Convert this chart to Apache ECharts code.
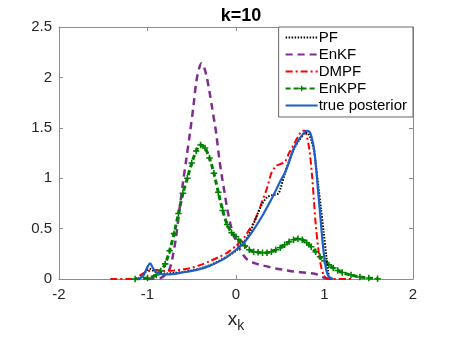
<!DOCTYPE html>
<html>
<head>
<meta charset="utf-8">
<script src="https://cdn.jsdelivr.net/npm/echarts@6/dist/echarts.min.js"></script>
<style>html,body{margin:0;padding:0;background:#fff}#c{width:457px;height:338px}</style>
</head>
<body>
<div id="c"></div>
<script>
const xTicks = [-2, -1, 0, 1, 2];
const yTicks = [0, 0.5, 1, 1.5, 2, 2.5];

const pfX = [-1.1, -1.05, -1.0, -0.97, -0.93, -0.88, -0.8, -0.7, -0.6, -0.5, -0.4, -0.3, -0.2, -0.1, 0, 0.1, 0.15, 0.2, 0.25, 0.3, 0.35, 0.4, 0.45, 0.48, 0.5, 0.55, 0.6, 0.65, 0.7, 0.75, 0.78, 0.82, 0.85, 0.88, 0.9, 0.93, 0.96, 0.99, 1.02, 1.04, 1.06, 1.1];
const pfY = [0, 0.04, 0.09, 0.1, 0.08, 0.06, 0.055, 0.06, 0.07, 0.085, 0.105, 0.135, 0.175, 0.225, 0.28, 0.38, 0.45, 0.55, 0.66, 0.75, 0.81, 0.83, 0.84, 0.85, 0.89, 1.04, 1.17, 1.28, 1.36, 1.42, 1.45, 1.44, 1.38, 1.28, 1.15, 0.92, 0.7, 0.47, 0.23, 0.08, 0.01, 0];

const enkfX = [-1.0, -0.85, -0.8, -0.75, -0.72, -0.68, -0.64, -0.6, -0.56, -0.52, -0.48, -0.45, -0.42, -0.39, -0.36, -0.33, -0.3, -0.27, -0.24, -0.22, -0.19, -0.16, -0.13, -0.1, -0.07, -0.03, 0, 0.04, 0.08, 0.13, 0.2, 0.27, 0.35, 0.45, 0.55, 0.65, 0.8, 0.9, 0.95, 1.0, 1.05];
const enkfY = [0, 0.01, 0.04, 0.1, 0.2, 0.4, 0.68, 0.95, 1.2, 1.45, 1.72, 1.95, 2.08, 2.14, 2.1, 2.0, 1.86, 1.7, 1.54, 1.42, 1.2, 1.02, 0.86, 0.7, 0.57, 0.44, 0.38, 0.3, 0.24, 0.19, 0.16, 0.14, 0.125, 0.105, 0.09, 0.075, 0.06, 0.05, 0.03, 0.01, 0];

const dmpfX = [-1.42, -1.2, -1.12, -1.08, -1.02, -0.95, -0.9, -0.8, -0.7, -0.6, -0.5, -0.4, -0.3, -0.2, -0.1, 0, 0.1, 0.15, 0.2, 0.25, 0.3, 0.35, 0.4, 0.45, 0.5, 0.55, 0.6, 0.65, 0.7, 0.75, 0.78, 0.8, 0.83, 0.86, 0.88, 0.9, 0.93, 0.96, 0.99, 1.02, 1.05, 1.3];
const dmpfY = [0, 0, 0.01, 0.04, 0.07, 0.085, 0.09, 0.08, 0.085, 0.095, 0.11, 0.14, 0.175, 0.215, 0.26, 0.33, 0.42, 0.49, 0.56, 0.66, 0.78, 0.9, 1.05, 1.12, 1.14, 1.16, 1.25, 1.33, 1.41, 1.47, 1.47, 1.42, 1.28, 1.02, 0.78, 0.55, 0.3, 0.13, 0.04, 0.01, 0, 0];

const enkpfX = [-1.14, -1.0, -0.9, -0.85, -0.8, -0.75, -0.7, -0.65, -0.6, -0.55, -0.5, -0.45, -0.4, -0.35, -0.3, -0.25, -0.2, -0.15, -0.1, -0.05, 0, 0.05, 0.1, 0.15, 0.2, 0.25, 0.3, 0.35, 0.4, 0.45, 0.5, 0.55, 0.6, 0.65, 0.7, 0.75, 0.8, 0.85, 0.9, 0.95, 1.0, 1.05, 1.1, 1.15, 1.2, 1.3, 1.4, 1.5, 1.6];
const enkpfY = [0, 0.01, 0.04, 0.08, 0.15, 0.28, 0.45, 0.65, 0.85, 1.0, 1.15, 1.27, 1.33, 1.3, 1.2, 1.05, 0.86, 0.68, 0.54, 0.46, 0.42, 0.37, 0.33, 0.29, 0.27, 0.265, 0.26, 0.26, 0.27, 0.29, 0.31, 0.34, 0.37, 0.39, 0.4, 0.39, 0.36, 0.32, 0.27, 0.22, 0.18, 0.14, 0.11, 0.085, 0.065, 0.04, 0.02, 0.01, 0.003];

const trueX = [-1.11, -1.05, -1.0, -0.97, -0.94, -0.9, -0.85, -0.8, -0.7, -0.6, -0.5, -0.4, -0.3, -0.2, -0.1, 0, 0.1, 0.2, 0.3, 0.4, 0.5, 0.55, 0.6, 0.65, 0.7, 0.75, 0.8, 0.83, 0.85, 0.88, 0.9, 0.93, 0.96, 0.98, 1.0, 1.02, 1.05, 1.1];
const trueY = [0, 0.03, 0.12, 0.155, 0.11, 0.065, 0.05, 0.045, 0.05, 0.065, 0.08, 0.1, 0.13, 0.17, 0.22, 0.29, 0.37, 0.49, 0.63, 0.79, 0.97, 1.05, 1.16, 1.29, 1.37, 1.43, 1.47, 1.46, 1.42, 1.3, 1.15, 0.85, 0.55, 0.35, 0.2, 0.09, 0.02, 0];

const zip = (xs, ys) => xs.map((x, i) => [x, ys[i]]);
// plus sign centred in a padded box (tiny corner specks keep the bounding box)
const plusPath = 'path://M-5,-5h0.01v0.01h-0.01Z M15,15h0.01v0.01h-0.01Z M3.8,0H6.2V3.8H10V6.2H6.2V10H3.8V6.2H0V3.8H3.8Z';
const font = 'Liberation Sans, Arial, Helvetica, sans-serif';
const axisCol = '#8c8c8c';
const txtCol = '#262626';

const chart = echarts.init(document.getElementById('c'), null, {renderer: 'canvas'});
chart.setOption({
  animation: false,
  backgroundColor: '#fff',
  title: {
    text: 'k=10', left: 236, top: 2, textAlign: 'center',
    textStyle: {fontFamily: font, fontSize: 18, fontWeight: 'bold', color: '#000'}
  },
  grid: {left: 59, right: 44, top: 27, bottom: 57, show: false},
  legend: {
    orient: 'vertical', right: 44, top: 27,
    backgroundColor: '#fff', borderColor: '#666', borderWidth: 1,
    padding: [3, 6, 4, 6], itemGap: 2, itemWidth: 32, itemHeight: 14,
    textStyle: {fontFamily: font, fontSize: 15, color: '#000', padding: [0, 0, 0, -4]},
    data: [
      {name: 'PF', itemStyle: {opacity: 0}},
      {name: 'EnKF', itemStyle: {opacity: 0}},
      {name: 'DMPF', itemStyle: {opacity: 0}},
      {name: 'EnKPF'},
      {name: 'true posterior', itemStyle: {opacity: 0}}
    ]
  },
  xAxis: [{
    type: 'value', min: -2, max: 2, interval: 1,
    name: '{x|x}{k|k}', nameLocation: 'middle', nameGap: 28,
    nameTextStyle: {rich: {x: {fontFamily: font, fontSize: 19, color: txtCol}, k: {fontFamily: font, fontSize: 14, color: txtCol, verticalAlign: 'bottom', padding: [12, 0, 0, 0]}}},
    axisLine: {show: true, onZero: false, lineStyle: {color: axisCol}},
    axisTick: {show: true, inside: true, length: 4, lineStyle: {color: axisCol}},
    axisLabel: {fontFamily: font, fontSize: 15, color: txtCol, margin: 8},
    splitLine: {show: false}
  }, {
    type: 'value', position: 'top', min: -2, max: 2, interval: 1,
    axisLine: {show: true, onZero: false, lineStyle: {color: axisCol}},
    axisTick: {show: true, inside: true, length: 4, lineStyle: {color: axisCol}},
    axisLabel: {show: false}, splitLine: {show: false}
  }],
  yAxis: [{
    type: 'value', min: 0, max: 2.5, interval: 0.5,
    axisLine: {show: true, onZero: false, lineStyle: {color: axisCol}},
    axisTick: {show: true, inside: true, length: 4, lineStyle: {color: axisCol}},
    axisLabel: {fontFamily: font, fontSize: 15, color: txtCol, margin: 7},
    splitLine: {show: false}
  }, {
    type: 'value', position: 'right', min: 0, max: 2.5, interval: 0.5,
    axisLine: {show: true, onZero: false, lineStyle: {color: axisCol}},
    axisTick: {show: true, inside: true, length: 4, lineStyle: {color: axisCol}},
    axisLabel: {show: false}, splitLine: {show: false}
  }],
  series: [
    {name: 'PF', type: 'line', data: zip(pfX, pfY), symbol: 'none', smooth: 0.3, z: 5,
     lineStyle: {color: '#000', width: 2, type: [1.5, 1.5]}, itemStyle: {color: '#000'}},
    {name: 'EnKF', type: 'line', data: zip(enkfX, enkfY), symbol: 'none', smooth: 0.3, z: 2,
     lineStyle: {color: '#7E2F8E', width: 2.5, type: [7, 5]}, itemStyle: {color: '#7E2F8E'}},
    {name: 'DMPF', type: 'line', data: zip(dmpfX, dmpfY), symbol: 'none', smooth: 0.3, z: 3,
     lineStyle: {color: '#ff0000', width: 2, type: [7, 3, 2, 3]}, itemStyle: {color: '#ff0000'}},
    {name: 'EnKPF', type: 'line', data: zip(enkpfX, enkpfY), symbol: plusPath, symbolSize: 13, showAllSymbol: true, smooth: 0.3, z: 4,
     lineStyle: {color: '#008000', width: 3, type: [5, 3]}, itemStyle: {color: '#008000'}},
    {name: 'true posterior', type: 'line', data: zip(trueX, trueY), symbol: 'none', smooth: 0.3, z: 6,
     lineStyle: {color: '#1f5fc8', width: 2.2}, itemStyle: {color: '#1f5fc8'}}
  ]
});
</script>
</body>
</html>
